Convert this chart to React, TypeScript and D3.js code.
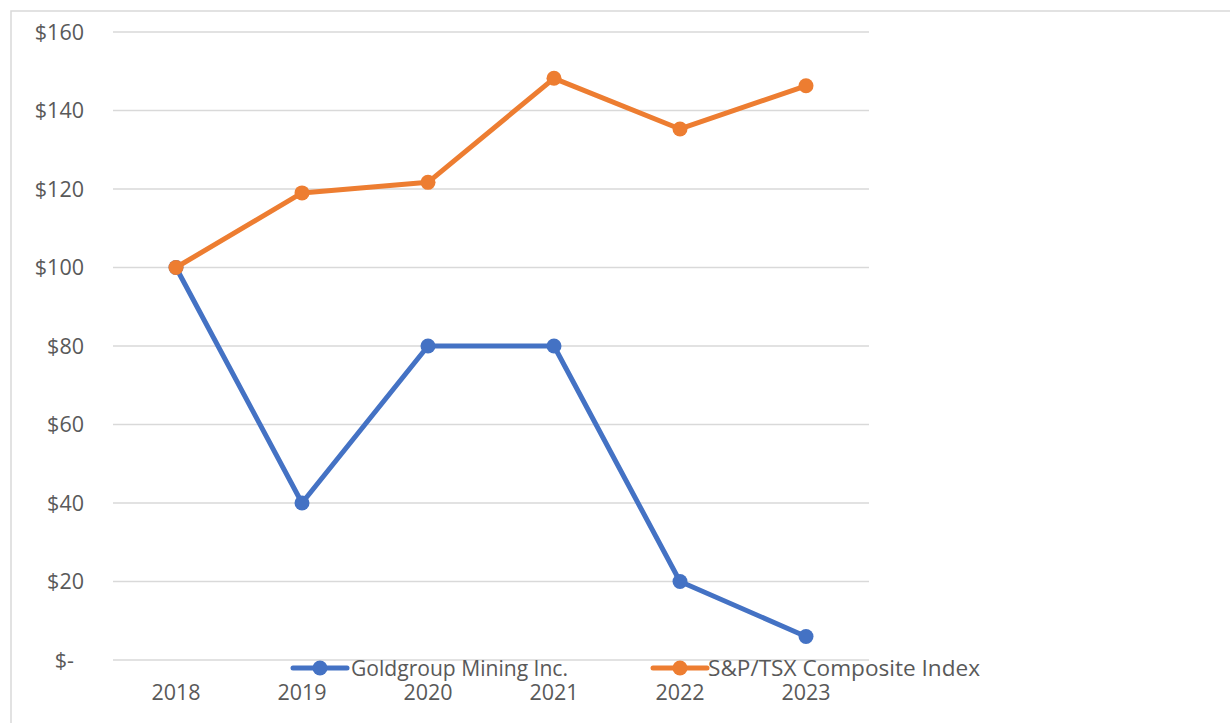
import React from "react";
import * as d3 from "d3";

const years = ["2018", "2019", "2020", "2021", "2022", "2023"];
const goldgroup = [100, 40, 80, 80, 20, 6];
const tsx = [100, 119, 121.7, 148.2, 135.3, 146.3];
const yTicks = [0, 20, 40, 60, 80, 100, 120, 140, 160];
const yTickLabels = ["$-", "$20", "$40", "$60", "$80", "$100", "$120", "$140", "$160"];
const seriesNames = ["Goldgroup Mining Inc.", "S&P/TSX Composite Index"];
const seriesColors = ["#4472C4", "#ED7D31"];

const W = 1230;
const H = 723;
const FONT = "'Open Sans', 'Liberation Sans', sans-serif";

export default function App() {
  const x = d3.scaleBand<string>().domain(years).range([113, 869]);
  const y = d3.scaleLinear().domain([0, 160]).range([660, 32]);
  const cx = (d: string) => (x(d) as number) + x.bandwidth() / 2;
  const line = d3
    .line<number>()
    .x((_, i) => cx(years[i]))
    .y((v) => y(v));
  const series = [goldgroup, tsx];
  const legend = [
    { lx: 293, tx: 351, len: 217 },
    { lx: 653, tx: 708, len: 272 },
  ];

  return (
    <svg
      width={W}
      height={H}
      style={{ position: "absolute", left: 0, top: 0, background: "#fff" }}
    >
      <rect x={0} y={0} width={W} height={H} fill="#fff" />
      <rect x={11} y={11} width={W} height={H} fill="none" stroke="#D9D9D9" strokeWidth={1.5} />
      {yTicks.map((t, i) => (
        <g key={t}>
          <line x1={113} x2={869} y1={y(t)} y2={y(t)} stroke="#D9D9D9" strokeWidth={1.5} />
          <text
            x={t === 0 ? 74 : 84}
            y={y(t)}
            dy="0.35em"
            textAnchor="end"
            fontFamily={FONT}
            fontSize={21.5}
            fill="#595959"
          >
            {yTickLabels[i]}
          </text>
        </g>
      ))}
      {years.map((yr) => (
        <text
          key={yr}
          x={cx(yr)}
          y={700}
          textAnchor="middle"
          fontFamily={FONT}
          fontSize={21.5}
          fill="#595959"
        >
          {yr}
        </text>
      ))}
      {series.map((s, si) => (
        <g key={si}>
          <path
            d={line(s) || ""}
            fill="none"
            stroke={seriesColors[si]}
            strokeWidth={5}
            strokeLinejoin="round"
            strokeLinecap="round"
          />
          {s.map((v, i) => (
            <circle key={i} cx={cx(years[i])} cy={y(v)} r={7.5} fill={seriesColors[si]} />
          ))}
        </g>
      ))}
      {seriesNames.map((n, i) => (
        <g key={n}>
          <line
            x1={legend[i].lx}
            x2={legend[i].lx + 54}
            y1={668}
            y2={668}
            stroke={seriesColors[i]}
            strokeWidth={5}
            strokeLinecap="round"
          />
          <circle cx={legend[i].lx + 27} cy={668} r={7.5} fill={seriesColors[i]} />
          <text
            x={legend[i].tx}
            y={668}
            dy="0.35em"
            fontFamily={FONT}
            fontSize={22}
            fill="#595959"
            textLength={legend[i].len}
            lengthAdjust="spacingAndGlyphs"
          >
            {n}
          </text>
        </g>
      ))}
    </svg>
  );
}
